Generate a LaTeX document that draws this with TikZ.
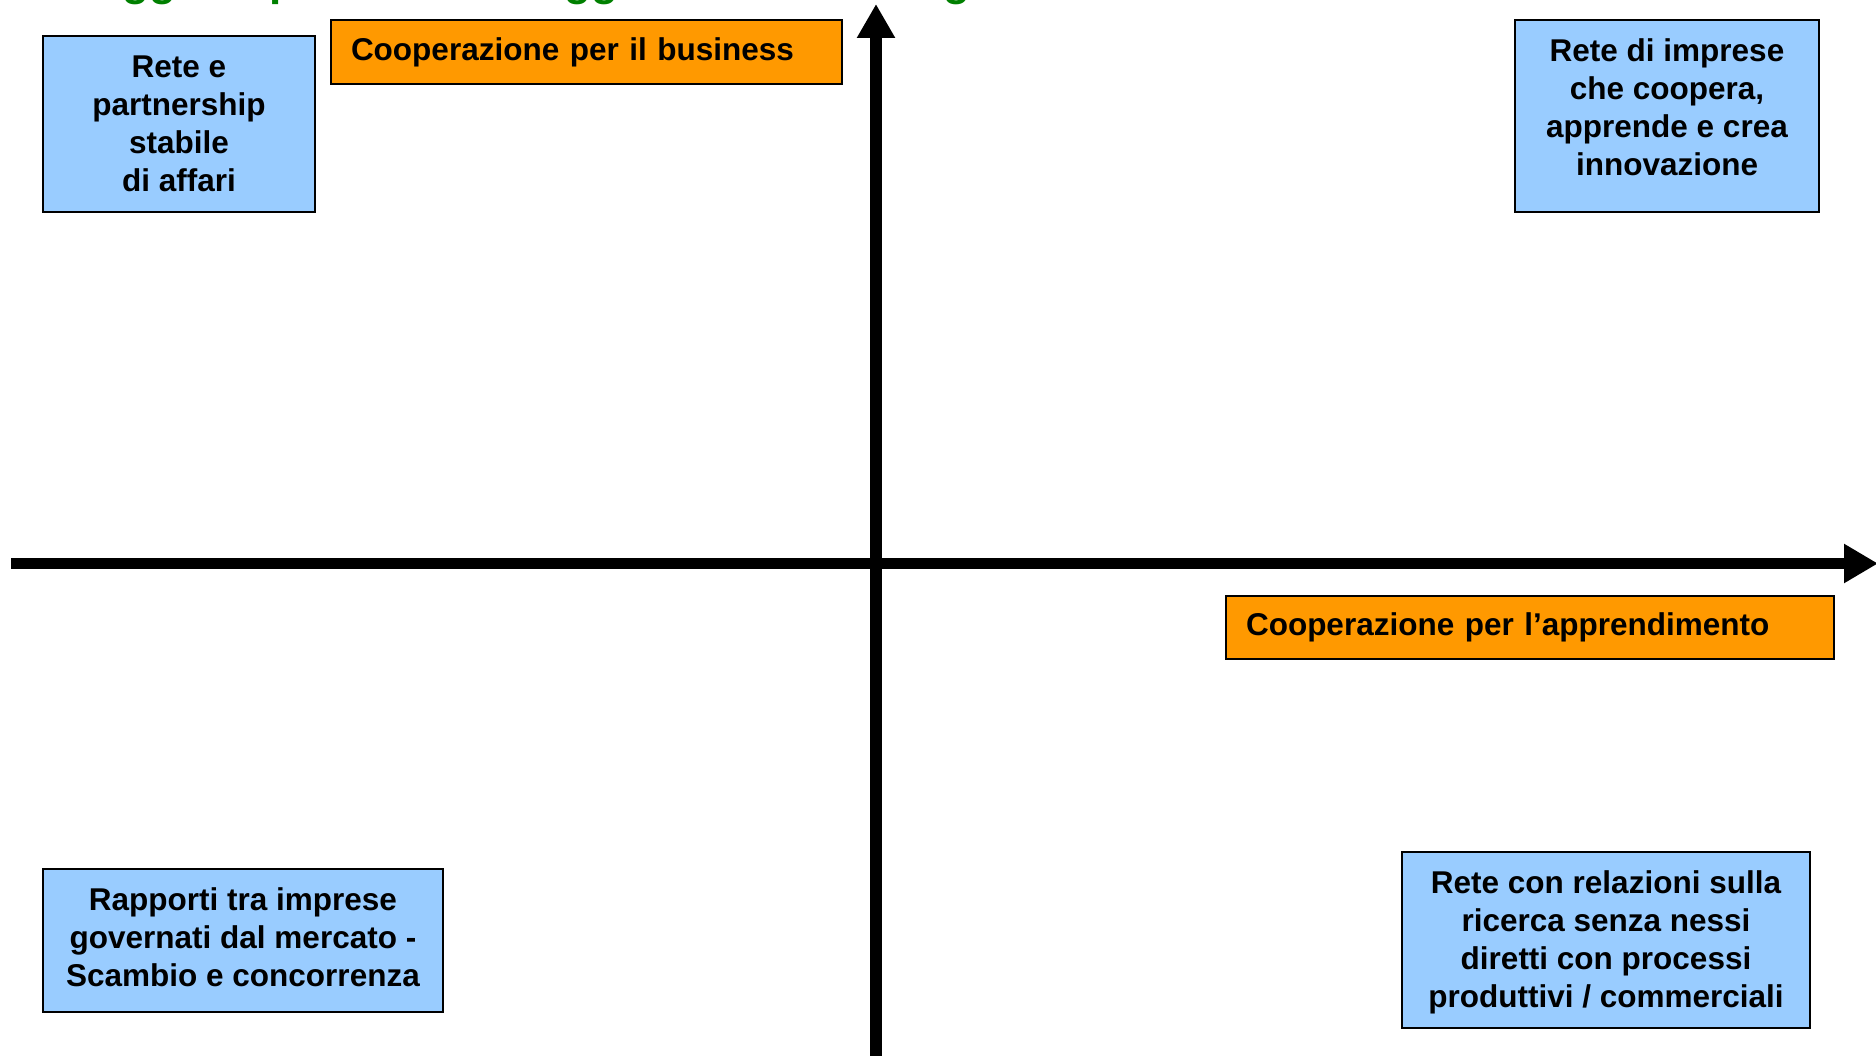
\documentclass[tikz,border=0pt]{standalone}
\usepackage{fontspec}
\setmainfont{Liberation Sans}
\usetikzlibrary{arrows.meta}
\definecolor{boxblue}{HTML}{99CCFF}
\definecolor{boxorange}{HTML}{FF9900}
\definecolor{titlegreen}{HTML}{008000}
\begin{document}
\begin{tikzpicture}[x=1pt,y=-1pt,
  boxtext/.style={font=\fontsize{31.5}{38}\selectfont\bfseries, text=black},
  bluebox/.style={draw=black, line width=2pt, fill=boxblue, rectangle, inner sep=0pt},
  bluetext/.style={boxtext, inner sep=0pt, align=center},
  orangebox/.style={boxtext, draw=black, line width=2pt, fill=boxorange, rectangle, inner xsep=20pt, inner ysep=0pt, align=left},
  axis/.style={draw=black, line width=11.5pt}
]
\useasboundingbox (0,0) rectangle (1876,1056);
\clip (0,0) rectangle (1876,1056);
\fill[white] (0,0) rectangle (1876,1056);

% title (mostly outside the visible area)
\node[anchor=base west, inner sep=0pt, font=\fontsize{44}{50}\selectfont\bfseries, text=titlegreen] (title) at (88,-4) {Oggetto prevalente e oggetto della strategia};

% axes
\coordinate (xl) at (11,563.5);
\coordinate (xr) at (1878,563.5);
\coordinate (yb) at (876,1070);
\coordinate (yt) at (876,4);
\draw[axis, -{Triangle[width=37pt,length=34pt]}] (xl) -- (xr);
\draw[axis, -{Triangle[width=36pt,length=34pt]}] (yb) -- (yt);

% boxes
\node[bluebox, minimum width=272pt, minimum height=176pt] (b1) at (179,124) {};
\node[bluetext] (b1t) at (b1.center) {Rete e\\partnership\\stabile\\di affari};

\node[orangebox, text width=471pt, minimum height=64pt] (o1) at (586.5,52) {Cooperazione per il business};

\node[bluebox, minimum width=304pt, minimum height=192pt] (b3) at (1667,116) {};
\node[bluetext] (b3t) at ([yshift=9pt]b3.center) {Rete di imprese\\che coopera,\\apprende e crea\\innovazione};

\node[orangebox, text width=568pt, minimum height=63pt] (o2) at (1530,627.5) {Cooperazione per l’apprendimento};

\node[bluebox, minimum width=400pt, minimum height=143pt] (b5) at (243,940.5) {};
\node[bluetext] (b5t) at ([yshift=3.5pt]b5.center) {Rapporti tra imprese\\governati dal mercato -\\Scambio e concorrenza};

\node[bluebox, minimum width=408pt, minimum height=176pt] (b6) at (1606,940) {};
\node[bluetext] (b6t) at ([yshift=-2pt]b6.center) {Rete con relazioni sulla\\ricerca senza nessi\\diretti con processi\\produttivi / commerciali};
\end{tikzpicture}
\end{document}
